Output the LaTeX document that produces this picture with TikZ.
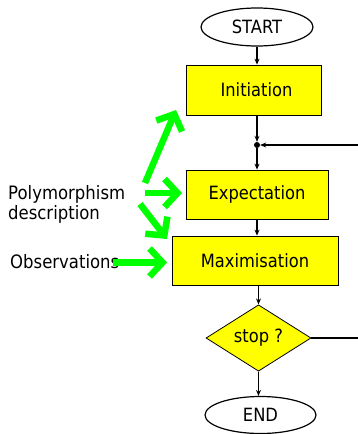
\documentclass[tikz,border=0pt]{standalone}
\usepackage{fontspec}
\setmainfont{DejaVu Sans}
\usetikzlibrary{shapes.geometric,arrows.meta}
\definecolor{boxyellow}{RGB}{255,255,0}
\definecolor{arrgreen}{RGB}{0,255,0}
\newcommand{\vtxt}[1]{\scalebox{1}[1.12]{#1}}
\tikzset{
  terminal/.style={ellipse,draw,line width=1.2pt,inner sep=0pt,font=\fontsize{16.3}{18}\selectfont},
  procbox/.style={rectangle,draw,fill=boxyellow,line width=0.8pt,inner sep=0pt,font=\fontsize{16.3}{18}\selectfont},
  decision/.style={diamond,draw,fill=boxyellow,line width=0.8pt,inner sep=0pt,minimum width=105pt,minimum height=66pt,font=\fontsize{16.3}{18}\selectfont},
  flow/.style={line width=1.3pt,-{Stealth[length=6pt,width=5pt]}},
  plain/.style={line width=1.3pt},
  greenarrow/.style={draw=arrgreen,line width=6.5pt,-{Straight Barb[length=13pt,width=28pt]}},
  label/.style={font=\fontsize{16.5}{18}\selectfont,inner sep=0pt}
}
\begin{document}
\begin{tikzpicture}[x=1pt,y=-1pt]
\useasboundingbox (0,0) rectangle (358,434);
% main flow
\node[terminal,minimum width=112pt,minimum height=38pt] (start) at (257,27) {\vtxt{START}};
\node[procbox,minimum width=135pt,minimum height=50pt] (init) at (253.5,90) {\hspace{6pt}\vtxt{Initiation}};
\node[circle,fill,inner sep=0pt,minimum size=6pt] (dot) at (257,145) {};
\node[procbox,minimum width=142pt,minimum height=49pt] (exp) at (257,194.5) {\vtxt{Expectation}};
\node[procbox,minimum width=166pt,minimum height=49pt] (max) at (255,260.5) {\vtxt{Maximisation}\hspace{14pt}};
\node[decision] (stop) at (258.5,338) {\vtxt{stop ?}\hspace{10pt}};
\node[terminal,minimum width=111pt,minimum height=37pt] (end) at (260.5,415) {\vtxt{END}};
% side labels
\node[label,anchor=west] (poly) at (8,205.5) {\vtxt{\begin{tabular}{@{}l@{}}Polymorphism\\description\end{tabular}}};
\node[label,anchor=west] (obs) at (10,262) {\vtxt{Observations}};
% free ends
\coordinate (loopin) at (358,145);
\coordinate (loopout) at (358,338);
\coordinate (g1a) at (145,183);
\coordinate (g1b) at (176,110);
\coordinate (g2a) at (145,193);
\coordinate (g2b) at (182,193);
\coordinate (g3a) at (140,204);
\coordinate (g3b) at (167,239);
\coordinate (g4a) at (113,262.5);
\coordinate (g4b) at (167,262.5);
% connectors
\draw[flow] (start.south) -- (start.south |- init.north);
\draw[flow] (init.south -| dot) -- (dot);
\draw[flow] (dot) -- (dot |- exp.north);
\draw[flow] (exp.south) -- (exp.south |- max.north);
\draw[flow] (stop.north |- max.south) -- (stop.north);
\draw[flow] (stop.south) -- (stop.south |- end.north);
\draw[flow] (loopin) -- (dot);
\draw[plain] (stop.east) -- (loopout);
% green arrows
\draw[greenarrow] (g1a) -- (g1b);
\draw[greenarrow] (g2a) -- (g2b);
\draw[greenarrow] (g3a) -- (g3b);
\draw[greenarrow] (g4a) -- (g4b);
\end{tikzpicture}
\end{document}
